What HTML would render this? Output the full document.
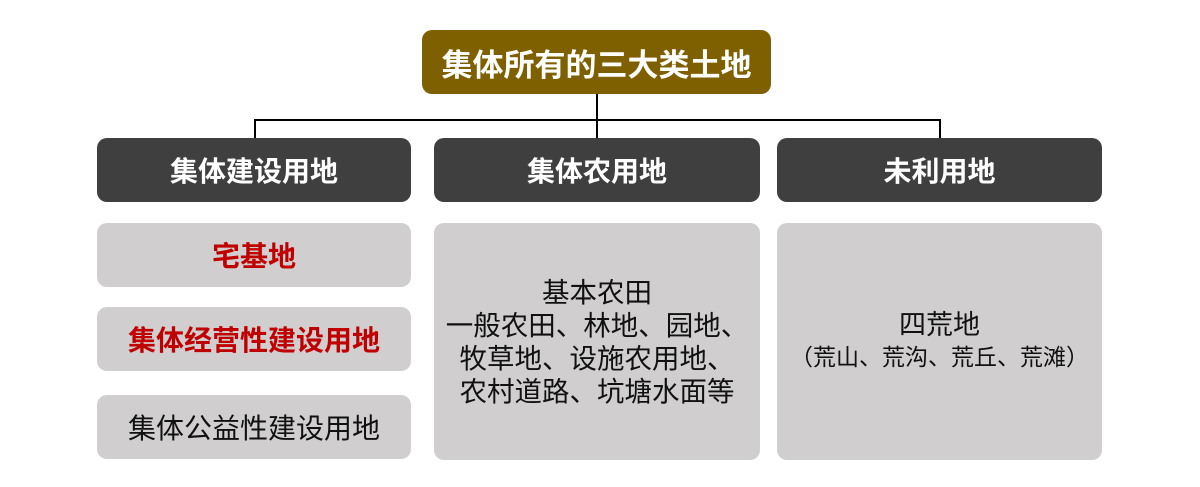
<!DOCTYPE html>
<html><head><meta charset="utf-8"><style>
body{margin:0;width:1200px;height:487px;background:#fff;position:relative;overflow:hidden;font-family:"Liberation Sans","Noto Sans CJK SC",sans-serif}
.b{position:absolute;display:flex;align-items:center;justify-content:center;text-align:center;border-radius:10px;box-sizing:border-box;white-space:nowrap}
.h{background:#3f3f3f;color:#fff;font-weight:bold;font-size:28px}
.g{background:#d0cecf;color:#111;font-size:27px}
.r{color:#c00000;font-weight:bold;font-size:28px}
.l{position:absolute;background:#000}
</style></head><body>
<div class="l" style="left:596px;top:92px;width:2px;height:46px"></div>
<div class="l" style="left:254px;top:119px;width:687px;height:2px"></div>
<div class="l" style="left:254px;top:119px;width:2px;height:20px"></div>
<div class="l" style="left:939px;top:119px;width:2px;height:20px"></div>
<div class="b" style="left:422px;top:30px;width:349px;height:64px;background:#7f6000;color:#fff;font-weight:bold;font-size:31px">集体所有的三大类土地</div>
<div class="b h" style="left:97px;top:138px;width:314px;height:64px">集体建设用地</div>
<div class="b h" style="left:434px;top:138px;width:326px;height:64px">集体农用地</div>
<div class="b h" style="left:777px;top:138px;width:325px;height:64px">未利用地</div>
<div class="b g r" style="left:97px;top:223px;width:314px;height:64px">宅基地</div>
<div class="b g r" style="left:97px;top:307px;width:314px;height:64px">集体经营性建设用地</div>
<div class="b g" style="left:97px;top:395px;width:314px;height:64px;font-size:28px">集体公益性建设用地</div>
<div class="b g" style="left:434px;top:223px;width:326px;height:237px;line-height:33px;font-size:27.5px">基本农田<br>一般农田、林地、园地、<br>牧草地、设施农用地、<br>农村道路、坑塘水面等</div>
<div class="b g" style="left:777px;top:223px;width:325px;height:237px;flex-direction:column;padding-bottom:4px"><div style="font-size:27px;line-height:34px">四荒地</div><div style="font-size:23px;line-height:30px">（荒山、荒沟、荒丘、荒滩）</div></div>
</body></html>
